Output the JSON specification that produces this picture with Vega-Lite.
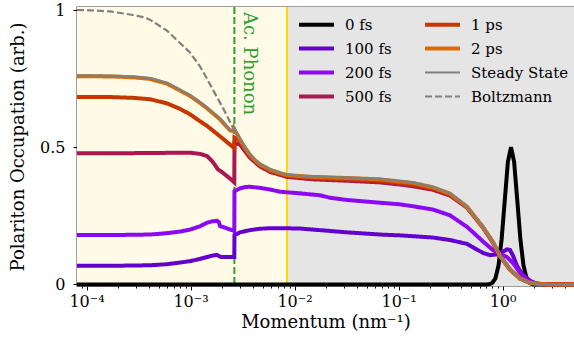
{
  "$schema": "https://vega.github.io/schema/vega-lite/v6.json",
  "width": 497,
  "height": 279,
  "autosize": {"type": "none"},
  "padding": {"left": 77, "top": 7, "right": 0, "bottom": 57},
  "config": {
    "font": "DejaVu Serif",
    "view": {"stroke": "#808080", "strokeWidth": 1.5},
    "axis": {"grid": false, "domain": false, "tickColor": "#000000", "labelColor": "#000000", "titleColor": "#000000", "labelFont": "DejaVu Serif", "titleFont": "DejaVu Serif", "titleFontWeight": "normal"},
    "legend": {"labelFont": "DejaVu Serif", "labelFontSize": 15, "labelColor": "#000000"}
  },
  "datasets": {
    "curves": [
      {"s": "0 fs", "x": 8.1e-5, "y": 0},
      {"s": "0 fs", "x": 0.5, "y": 0},
      {"s": "0 fs", "x": 0.693, "y": 0},
      {"s": "0 fs", "x": 0.743, "y": 0.001},
      {"s": "0 fs", "x": 0.796, "y": 0.0056},
      {"s": "0 fs", "x": 0.853, "y": 0.022},
      {"s": "0 fs", "x": 0.914, "y": 0.069},
      {"s": "0 fs", "x": 0.979, "y": 0.165},
      {"s": "0 fs", "x": 1.05, "y": 0.307},
      {"s": "0 fs", "x": 1.125, "y": 0.447},
      {"s": "0 fs", "x": 1.205, "y": 0.5},
      {"s": "0 fs", "x": 1.291, "y": 0.447},
      {"s": "0 fs", "x": 1.384, "y": 0.307},
      {"s": "0 fs", "x": 1.483, "y": 0.165},
      {"s": "0 fs", "x": 1.589, "y": 0.069},
      {"s": "0 fs", "x": 1.702, "y": 0.022},
      {"s": "0 fs", "x": 1.824, "y": 0.0056},
      {"s": "0 fs", "x": 1.954, "y": 0.001},
      {"s": "0 fs", "x": 2.094, "y": 0},
      {"s": "0 fs", "x": 4.86, "y": 0},

      {"s": "100 fs", "x": 8.1e-5, "y": 0.068},
      {"s": "100 fs", "x": 1.68e-4, "y": 0.068},
      {"s": "100 fs", "x": 4.07e-4, "y": 0.07},
      {"s": "100 fs", "x": 5.93e-4, "y": 0.074},
      {"s": "100 fs", "x": 7.91e-4, "y": 0.08},
      {"s": "100 fs", "x": 9.89e-4, "y": 0.085},
      {"s": "100 fs", "x": 1.23e-3, "y": 0.093},
      {"s": "100 fs", "x": 1.44e-3, "y": 0.1},
      {"s": "100 fs", "x": 1.61e-3, "y": 0.105},
      {"s": "100 fs", "x": 1.8e-3, "y": 0.108},
      {"s": "100 fs", "x": 1.87e-3, "y": 0.104},
      {"s": "100 fs", "x": 1.96e-3, "y": 0.1},
      {"s": "100 fs", "x": 2.14e-3, "y": 0.1},
      {"s": "100 fs", "x": 2.5e-3, "y": 0.1},
      {"s": "100 fs", "x": 2.635e-3, "y": 0.1},
      {"s": "100 fs", "x": 2.645e-3, "y": 0.18},
      {"s": "100 fs", "x": 2.99e-3, "y": 0.19},
      {"s": "100 fs", "x": 3.72e-3, "y": 0.198},
      {"s": "100 fs", "x": 4.65e-3, "y": 0.203},
      {"s": "100 fs", "x": 5.81e-3, "y": 0.205},
      {"s": "100 fs", "x": 7.24e-3, "y": 0.205},
      {"s": "100 fs", "x": 0.01127, "y": 0.204},
      {"s": "100 fs", "x": 0.01506, "y": 0.2},
      {"s": "100 fs", "x": 0.0319, "y": 0.19},
      {"s": "100 fs", "x": 0.0662, "y": 0.182},
      {"s": "100 fs", "x": 0.1031, "y": 0.179},
      {"s": "100 fs", "x": 0.1375, "y": 0.176},
      {"s": "100 fs", "x": 0.2143, "y": 0.171},
      {"s": "100 fs", "x": 0.312, "y": 0.162},
      {"s": "100 fs", "x": 0.455, "y": 0.148},
      {"s": "100 fs", "x": 0.648, "y": 0.115},
      {"s": "100 fs", "x": 0.757, "y": 0.107},
      {"s": "100 fs", "x": 0.884, "y": 0.11},
      {"s": "100 fs", "x": 1.009, "y": 0.12},
      {"s": "100 fs", "x": 1.103, "y": 0.128},
      {"s": "100 fs", "x": 1.178, "y": 0.126},
      {"s": "100 fs", "x": 1.259, "y": 0.105},
      {"s": "100 fs", "x": 1.375, "y": 0.068},
      {"s": "100 fs", "x": 1.47, "y": 0.05},
      {"s": "100 fs", "x": 1.571, "y": 0.035},
      {"s": "100 fs", "x": 1.834, "y": 0.014},
      {"s": "100 fs", "x": 2.049, "y": 0.005},
      {"s": "100 fs", "x": 2.56, "y": 0},
      {"s": "100 fs", "x": 4.86, "y": 0},

      {"s": "200 fs", "x": 8.1e-5, "y": 0.18},
      {"s": "200 fs", "x": 1.68e-4, "y": 0.18},
      {"s": "200 fs", "x": 4.07e-4, "y": 0.182},
      {"s": "200 fs", "x": 5.93e-4, "y": 0.187},
      {"s": "200 fs", "x": 7.91e-4, "y": 0.193},
      {"s": "200 fs", "x": 9.89e-4, "y": 0.2},
      {"s": "200 fs", "x": 1.23e-3, "y": 0.212},
      {"s": "200 fs", "x": 1.44e-3, "y": 0.225},
      {"s": "200 fs", "x": 1.61e-3, "y": 0.23},
      {"s": "200 fs", "x": 1.8e-3, "y": 0.232},
      {"s": "200 fs", "x": 1.87e-3, "y": 0.228},
      {"s": "200 fs", "x": 1.92e-3, "y": 0.213},
      {"s": "200 fs", "x": 2.14e-3, "y": 0.207},
      {"s": "200 fs", "x": 2.5e-3, "y": 0.198},
      {"s": "200 fs", "x": 2.635e-3, "y": 0.195},
      {"s": "200 fs", "x": 2.645e-3, "y": 0.34},
      {"s": "200 fs", "x": 2.99e-3, "y": 0.35},
      {"s": "200 fs", "x": 3.34e-3, "y": 0.355},
      {"s": "200 fs", "x": 3.72e-3, "y": 0.356},
      {"s": "200 fs", "x": 4.65e-3, "y": 0.352},
      {"s": "200 fs", "x": 5.81e-3, "y": 0.346},
      {"s": "200 fs", "x": 7.24e-3, "y": 0.338},
      {"s": "200 fs", "x": 0.01127, "y": 0.332},
      {"s": "200 fs", "x": 0.01758, "y": 0.325},
      {"s": "200 fs", "x": 0.02188, "y": 0.316},
      {"s": "200 fs", "x": 0.0319, "y": 0.308},
      {"s": "200 fs", "x": 0.0662, "y": 0.298},
      {"s": "200 fs", "x": 0.1031, "y": 0.292},
      {"s": "200 fs", "x": 0.1375, "y": 0.285},
      {"s": "200 fs", "x": 0.2143, "y": 0.273},
      {"s": "200 fs", "x": 0.312, "y": 0.252},
      {"s": "200 fs", "x": 0.455, "y": 0.21},
      {"s": "200 fs", "x": 0.648, "y": 0.157},
      {"s": "200 fs", "x": 0.809, "y": 0.125},
      {"s": "200 fs", "x": 0.944, "y": 0.112},
      {"s": "200 fs", "x": 1.103, "y": 0.1},
      {"s": "200 fs", "x": 1.259, "y": 0.078},
      {"s": "200 fs", "x": 1.47, "y": 0.043},
      {"s": "200 fs", "x": 1.718, "y": 0.017},
      {"s": "200 fs", "x": 2.049, "y": 0.004},
      {"s": "200 fs", "x": 2.56, "y": 0},
      {"s": "200 fs", "x": 4.86, "y": 0},

      {"s": "500 fs", "x": 8.1e-5, "y": 0.478},
      {"s": "500 fs", "x": 1.68e-4, "y": 0.478},
      {"s": "500 fs", "x": 4.07e-4, "y": 0.479},
      {"s": "500 fs", "x": 7.91e-4, "y": 0.48},
      {"s": "500 fs", "x": 9.89e-4, "y": 0.48},
      {"s": "500 fs", "x": 1.23e-3, "y": 0.476},
      {"s": "500 fs", "x": 1.44e-3, "y": 0.468},
      {"s": "500 fs", "x": 1.61e-3, "y": 0.45},
      {"s": "500 fs", "x": 1.72e-3, "y": 0.435},
      {"s": "500 fs", "x": 1.83e-3, "y": 0.42},
      {"s": "500 fs", "x": 2.0e-3, "y": 0.41},
      {"s": "500 fs", "x": 2.24e-3, "y": 0.395},
      {"s": "500 fs", "x": 2.5e-3, "y": 0.38},
      {"s": "500 fs", "x": 2.635e-3, "y": 0.372},
      {"s": "500 fs", "x": 2.645e-3, "y": 0.515},
      {"s": "500 fs", "x": 2.99e-3, "y": 0.51},
      {"s": "500 fs", "x": 3.72e-3, "y": 0.462},
      {"s": "500 fs", "x": 4.65e-3, "y": 0.43},
      {"s": "500 fs", "x": 5.81e-3, "y": 0.41},
      {"s": "500 fs", "x": 8.46e-3, "y": 0.392},
      {"s": "500 fs", "x": 0.01506, "y": 0.383},
      {"s": "500 fs", "x": 0.0319, "y": 0.378},
      {"s": "500 fs", "x": 0.0662, "y": 0.372},
      {"s": "500 fs", "x": 0.1031, "y": 0.364},
      {"s": "500 fs", "x": 0.1375, "y": 0.358},
      {"s": "500 fs", "x": 0.2143, "y": 0.345},
      {"s": "500 fs", "x": 0.312, "y": 0.324},
      {"s": "500 fs", "x": 0.455, "y": 0.28},
      {"s": "500 fs", "x": 0.648, "y": 0.207},
      {"s": "500 fs", "x": 0.809, "y": 0.152},
      {"s": "500 fs", "x": 0.944, "y": 0.103},
      {"s": "500 fs", "x": 1.178, "y": 0.054},
      {"s": "500 fs", "x": 1.47, "y": 0.022},
      {"s": "500 fs", "x": 1.834, "y": 0.006},
      {"s": "500 fs", "x": 2.29, "y": 0.001},
      {"s": "500 fs", "x": 2.86, "y": 0},
      {"s": "500 fs", "x": 4.86, "y": 0},

      {"s": "1 ps", "x": 8.1e-5, "y": 0.683},
      {"s": "1 ps", "x": 1.68e-4, "y": 0.683},
      {"s": "1 ps", "x": 2.8e-4, "y": 0.68},
      {"s": "1 ps", "x": 4.07e-4, "y": 0.675},
      {"s": "1 ps", "x": 5.93e-4, "y": 0.66},
      {"s": "1 ps", "x": 7.91e-4, "y": 0.64},
      {"s": "1 ps", "x": 9.89e-4, "y": 0.62},
      {"s": "1 ps", "x": 1.23e-3, "y": 0.595},
      {"s": "1 ps", "x": 1.44e-3, "y": 0.578},
      {"s": "1 ps", "x": 1.92e-3, "y": 0.54},
      {"s": "1 ps", "x": 2.39e-3, "y": 0.51},
      {"s": "1 ps", "x": 2.635e-3, "y": 0.497},
      {"s": "1 ps", "x": 2.645e-3, "y": 0.535},
      {"s": "1 ps", "x": 2.99e-3, "y": 0.523},
      {"s": "1 ps", "x": 3.72e-3, "y": 0.468},
      {"s": "1 ps", "x": 4.65e-3, "y": 0.435},
      {"s": "1 ps", "x": 5.81e-3, "y": 0.414},
      {"s": "1 ps", "x": 8.46e-3, "y": 0.396},
      {"s": "1 ps", "x": 0.01506, "y": 0.388},
      {"s": "1 ps", "x": 0.0319, "y": 0.383},
      {"s": "1 ps", "x": 0.0662, "y": 0.378},
      {"s": "1 ps", "x": 0.1031, "y": 0.37},
      {"s": "1 ps", "x": 0.1375, "y": 0.364},
      {"s": "1 ps", "x": 0.2143, "y": 0.35},
      {"s": "1 ps", "x": 0.312, "y": 0.328},
      {"s": "1 ps", "x": 0.455, "y": 0.282},
      {"s": "1 ps", "x": 0.648, "y": 0.208},
      {"s": "1 ps", "x": 0.809, "y": 0.153},
      {"s": "1 ps", "x": 0.944, "y": 0.104},
      {"s": "1 ps", "x": 1.178, "y": 0.055},
      {"s": "1 ps", "x": 1.47, "y": 0.022},
      {"s": "1 ps", "x": 1.834, "y": 0.006},
      {"s": "1 ps", "x": 2.29, "y": 0.001},
      {"s": "1 ps", "x": 2.86, "y": 0},
      {"s": "1 ps", "x": 4.86, "y": 0},

      {"s": "2 ps", "x": 8.1e-5, "y": 0.759},
      {"s": "2 ps", "x": 1.68e-4, "y": 0.758},
      {"s": "2 ps", "x": 2.8e-4, "y": 0.755},
      {"s": "2 ps", "x": 4.07e-4, "y": 0.749},
      {"s": "2 ps", "x": 5.93e-4, "y": 0.732},
      {"s": "2 ps", "x": 7.91e-4, "y": 0.707},
      {"s": "2 ps", "x": 9.89e-4, "y": 0.687},
      {"s": "2 ps", "x": 1.23e-3, "y": 0.662},
      {"s": "2 ps", "x": 1.44e-3, "y": 0.642},
      {"s": "2 ps", "x": 1.92e-3, "y": 0.602},
      {"s": "2 ps", "x": 2.39e-3, "y": 0.562},
      {"s": "2 ps", "x": 2.635e-3, "y": 0.557},
      {"s": "2 ps", "x": 2.645e-3, "y": 0.565},
      {"s": "2 ps", "x": 2.99e-3, "y": 0.528},
      {"s": "2 ps", "x": 3.34e-3, "y": 0.498},
      {"s": "2 ps", "x": 3.72e-3, "y": 0.473},
      {"s": "2 ps", "x": 4.16e-3, "y": 0.453},
      {"s": "2 ps", "x": 4.65e-3, "y": 0.438},
      {"s": "2 ps", "x": 5.81e-3, "y": 0.418},
      {"s": "2 ps", "x": 7.24e-3, "y": 0.406},
      {"s": "2 ps", "x": 8.46e-3, "y": 0.399},
      {"s": "2 ps", "x": 0.01127, "y": 0.395},
      {"s": "2 ps", "x": 0.01506, "y": 0.392},
      {"s": "2 ps", "x": 0.0319, "y": 0.388},
      {"s": "2 ps", "x": 0.0662, "y": 0.383},
      {"s": "2 ps", "x": 0.1031, "y": 0.375},
      {"s": "2 ps", "x": 0.1375, "y": 0.37},
      {"s": "2 ps", "x": 0.2143, "y": 0.354},
      {"s": "2 ps", "x": 0.312, "y": 0.331},
      {"s": "2 ps", "x": 0.455, "y": 0.283},
      {"s": "2 ps", "x": 0.648, "y": 0.209},
      {"s": "2 ps", "x": 0.809, "y": 0.154},
      {"s": "2 ps", "x": 0.944, "y": 0.104},
      {"s": "2 ps", "x": 1.178, "y": 0.055},
      {"s": "2 ps", "x": 1.47, "y": 0.022},
      {"s": "2 ps", "x": 1.834, "y": 0.006},
      {"s": "2 ps", "x": 2.29, "y": 0.001},
      {"s": "2 ps", "x": 2.86, "y": 0},
      {"s": "2 ps", "x": 4.86, "y": 0},

      {"s": "Steady State", "x": 8.1e-5, "y": 0.762},
      {"s": "Steady State", "x": 1.68e-4, "y": 0.761},
      {"s": "Steady State", "x": 2.8e-4, "y": 0.758},
      {"s": "Steady State", "x": 4.07e-4, "y": 0.752},
      {"s": "Steady State", "x": 5.93e-4, "y": 0.735},
      {"s": "Steady State", "x": 7.91e-4, "y": 0.71},
      {"s": "Steady State", "x": 9.89e-4, "y": 0.69},
      {"s": "Steady State", "x": 1.23e-3, "y": 0.665},
      {"s": "Steady State", "x": 1.44e-3, "y": 0.645},
      {"s": "Steady State", "x": 1.92e-3, "y": 0.605},
      {"s": "Steady State", "x": 2.39e-3, "y": 0.565},
      {"s": "Steady State", "x": 2.635e-3, "y": 0.56},
      {"s": "Steady State", "x": 2.645e-3, "y": 0.568},
      {"s": "Steady State", "x": 2.99e-3, "y": 0.53},
      {"s": "Steady State", "x": 3.34e-3, "y": 0.5},
      {"s": "Steady State", "x": 3.72e-3, "y": 0.475},
      {"s": "Steady State", "x": 4.16e-3, "y": 0.455},
      {"s": "Steady State", "x": 4.65e-3, "y": 0.44},
      {"s": "Steady State", "x": 5.81e-3, "y": 0.42},
      {"s": "Steady State", "x": 7.24e-3, "y": 0.408},
      {"s": "Steady State", "x": 8.46e-3, "y": 0.401},
      {"s": "Steady State", "x": 0.01127, "y": 0.397},
      {"s": "Steady State", "x": 0.01506, "y": 0.394},
      {"s": "Steady State", "x": 0.0319, "y": 0.39},
      {"s": "Steady State", "x": 0.0662, "y": 0.385},
      {"s": "Steady State", "x": 0.1031, "y": 0.377},
      {"s": "Steady State", "x": 0.1375, "y": 0.372},
      {"s": "Steady State", "x": 0.2143, "y": 0.356},
      {"s": "Steady State", "x": 0.312, "y": 0.333},
      {"s": "Steady State", "x": 0.455, "y": 0.285},
      {"s": "Steady State", "x": 0.648, "y": 0.21},
      {"s": "Steady State", "x": 0.809, "y": 0.155},
      {"s": "Steady State", "x": 0.944, "y": 0.105},
      {"s": "Steady State", "x": 1.178, "y": 0.055},
      {"s": "Steady State", "x": 1.47, "y": 0.022},
      {"s": "Steady State", "x": 1.834, "y": 0.006},
      {"s": "Steady State", "x": 2.29, "y": 0.001},
      {"s": "Steady State", "x": 2.86, "y": 0},
      {"s": "Steady State", "x": 4.86, "y": 0},

      {"s": "Boltzmann", "x": 8.1e-5, "y": 1.0},
      {"s": "Boltzmann", "x": 1.078e-4, "y": 0.999},
      {"s": "Boltzmann", "x": 1.68e-4, "y": 0.995},
      {"s": "Boltzmann", "x": 2.8e-4, "y": 0.982},
      {"s": "Boltzmann", "x": 3.49e-4, "y": 0.974},
      {"s": "Boltzmann", "x": 4.07e-4, "y": 0.965},
      {"s": "Boltzmann", "x": 5.93e-4, "y": 0.925},
      {"s": "Boltzmann", "x": 7.91e-4, "y": 0.88},
      {"s": "Boltzmann", "x": 9.89e-4, "y": 0.845},
      {"s": "Boltzmann", "x": 1.23e-3, "y": 0.795},
      {"s": "Boltzmann", "x": 1.44e-3, "y": 0.75},
      {"s": "Boltzmann", "x": 1.61e-3, "y": 0.715},
      {"s": "Boltzmann", "x": 1.83e-3, "y": 0.677},
      {"s": "Boltzmann", "x": 2.05e-3, "y": 0.643},
      {"s": "Boltzmann", "x": 2.24e-3, "y": 0.615},
      {"s": "Boltzmann", "x": 2.5e-3, "y": 0.578},
      {"s": "Boltzmann", "x": 2.64e-3, "y": 0.56}
    ]
  },
  "layer": [
    {
      "data": {"values": [{"a": 8.1e-5, "b": 8.46e-3}]},
      "mark": {"type": "rect", "color": "#fffbe6"},
      "encoding": {
        "x": {
          "field": "a", "type": "quantitative",
          "scale": {"type": "log", "domain": [8.1e-5, 4.86], "nice": false},
          "axis": {
            "orient": "bottom",
            "values": [9e-5, 0.0001, 0.0002, 0.0003, 0.0004, 0.0005, 0.0006, 0.0007, 0.0008, 0.0009, 0.001, 0.002, 0.003, 0.004, 0.005, 0.006, 0.007, 0.008, 0.009, 0.01, 0.02, 0.03, 0.04, 0.05, 0.06, 0.07, 0.08, 0.09, 0.1, 0.2, 0.3, 0.4, 0.5, 0.6, 0.7, 0.8, 0.9, 1, 2, 3, 4],
            "tickSize": {"condition": {"test": "abs(log(datum.value)/LN10 - round(log(datum.value)/LN10)) < 0.001", "value": 4}, "value": 2},
            "labelExpr": "abs(log(datum.value)/LN10 - round(log(datum.value)/LN10)) < 0.001 ? '10' + ['⁻⁴','⁻³','⁻²','⁻¹','⁰'][round(log(datum.value)/LN10)+4] : ''",
            "labelOverlap": false,
            "labelBound": false,
            "labelFlush": false,
            "labelFont": "DejaVu Serif",
            "labelFontSize": 16,
            "labelPadding": 3,
            "title": "Momentum (nm⁻¹)",
            "titleFontSize": 18,
            "titlePadding": 4
          }
        },
        "x2": {"field": "b"}
      }
    },
    {
      "data": {"values": [{"a": 8.46e-3, "b": 4.86}]},
      "mark": {"type": "rect", "color": "#e5e5e5"},
      "encoding": {
        "x": {"field": "a", "type": "quantitative", "axis": null},
        "x2": {"field": "b"}
      }
    },
    {
      "data": {"values": [{"a": 8.46e-3}]},
      "mark": {"type": "rule", "color": "#ffd700", "strokeWidth": 2},
      "encoding": {
        "x": {"field": "a", "type": "quantitative", "axis": null}
      }
    },
    {
      "data": {"values": [{"a": 2.64e-3}]},
      "mark": {"type": "rule", "color": "#2ca02c", "strokeWidth": 2, "strokeDash": [7, 3]},
      "encoding": {
        "x": {"field": "a", "type": "quantitative", "axis": null}
      }
    },
    {
      "data": {"values": [{"a": 2.64e-3, "v": 1.011, "t": "Ac. Phonon"}]},
      "mark": {"type": "text", "color": "#2ca02c", "font": "DejaVu Serif", "fontSize": 18, "angle": 90, "align": "left", "baseline": "bottom", "dx": 5, "dy": -6},
      "encoding": {
        "x": {"field": "a", "type": "quantitative", "axis": null},
        "y": {"field": "v", "type": "quantitative", "axis": null},
        "text": {"field": "t"}
      }
    },
    {
      "data": {"name": "curves"},
      "mark": {"type": "line", "clip": false, "strokeCap": "butt"},
      "encoding": {
        "x": {"field": "x", "type": "quantitative", "axis": null},
        "y": {
          "field": "y", "type": "quantitative",
          "scale": {"domain": [-0.0055, 1.011], "nice": false, "zero": false},
          "axis": {
            "values": [0, 0.5, 1],
            "labelExpr": "datum.value == 0.5 ? '0.5' : format(datum.value, 'd')",
            "tickSize": 4,
            "labelFont": "DejaVu Serif",
            "labelFontSize": 16,
            "labelPadding": 8,
            "title": "Polariton Occupation (arb.)",
            "titleFontSize": 18,
            "titlePadding": 12
          }
        },
        "color": {
          "field": "s", "type": "nominal",
          "scale": {
            "domain": ["0 fs", "100 fs", "200 fs", "500 fs", "1 ps", "2 ps", "Steady State", "Boltzmann"],
            "range": ["#000000", "#6301ce", "#8c07f3", "#ab174f", "#c63700", "#dd6c00", "#808080", "#808080"]
          },
          "legend": {
            "orient": "none", "legendX": 232, "legendY": 10, "columns": 2, "title": null,
            "labelFont": "DejaVu Serif", "labelFontSize": 15, "labelColor": "#000000",
            "symbolType": "stroke", "symbolSize": 1225, "rowPadding": 7, "columnPadding": 25, "labelOffset": 21,
            "encode": {"symbols": {"update": {"strokeWidth": {"signal": "datum.label == 'Steady State' || datum.label == 'Boltzmann' ? 2 : 4"}}}}
          }
        },
        "strokeDash": {
          "field": "s", "type": "nominal",
          "scale": {
            "domain": ["0 fs", "100 fs", "200 fs", "500 fs", "1 ps", "2 ps", "Steady State", "Boltzmann"],
            "range": [[1, 0], [1, 0], [1, 0], [1, 0], [1, 0], [1, 0], [1, 0], [7, 3]]
          }
        },
        "strokeWidth": {
          "condition": {"test": "datum.s == 'Steady State' || datum.s == 'Boltzmann'", "value": 2.2},
          "value": 4
        }
      }
    }
  ],
  "resolve": {"axis": {"x": "independent", "y": "independent"}}
}
